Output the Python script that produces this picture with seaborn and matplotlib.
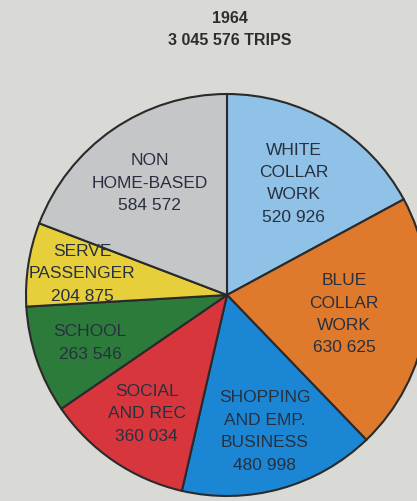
import numpy as np
import matplotlib
matplotlib.use("Agg")
import matplotlib.pyplot as plt
import seaborn as sns

# Trip purposes, 1964 survey
purposes = ["WHITE\nCOLLAR\nWORK", "BLUE\nCOLLAR\nWORK", "SHOPPING\nAND EMP.\nBUSINESS",
            "SOCIAL\nAND REC", "SCHOOL", "SERVE\nPASSENGER", "NON\nHOME-BASED"]
trips = [520926, 630625, 480998, 360034, 263546, 204875, 584572]
slice_colors = ["#8fc2e6", "#df7a2c", "#1b86d4", "#d8363d", "#2c7b3b", "#e7cf3c", "#c4c6c8"]
year = "1964"

# how far out (fraction of the radius) each slice's caption sits
label_radius = [0.65, 0.59, 0.70, 0.71, 0.72, 0.73, 0.68]

sns.set_style("white")
plt.rcParams["font.family"] = ["Liberation Sans", "DejaVu Sans"]

bg = "#d9d9d6"
fig = plt.figure(figsize=(4.17, 5.02), dpi=100, facecolor=bg)

def fmt(v):
    return f"{v:,}".replace(",", " ")

total = sum(trips)
fig.text(0.552, 0.963, year, ha="center", va="center", fontsize=11.5,
         fontweight="bold", color="#2e2e2e")
fig.text(0.552, 0.920, f"{fmt(total)} TRIPS", ha="center", va="center",
         fontsize=11.5, fontweight="bold", color="#2e2e2e")

ax = fig.add_axes([24 / 417, 3 / 502, 406 / 417, 406 / 502])
ax.set_facecolor(bg)
labels = [f"{p}\n{fmt(v)}" for p, v in zip(purposes, trips)]
wedges, texts = ax.pie(trips, labels=labels, colors=sns.color_palette(slice_colors),
                       startangle=90, counterclock=False, radius=1,
                       labeldistance=0.69,
                       wedgeprops=dict(edgecolor="#2a2a2a", linewidth=1.5),
                       textprops=dict(fontsize=12.5, color="#283040", linespacing=1.62))
for w, t, r in zip(wedges, texts, label_radius):
    mid = np.deg2rad((w.theta1 + w.theta2) / 2)
    t.set_position((r * np.cos(mid), r * np.sin(mid)))
    t.set_ha("center")
    t.set_va("center")
ax.set_xlim(-1.01, 1.01)
ax.set_ylim(-1.01, 1.01)
ax.set_aspect("equal")
ax.axis("off")

fig.savefig("out.png", dpi=100, facecolor=bg)
